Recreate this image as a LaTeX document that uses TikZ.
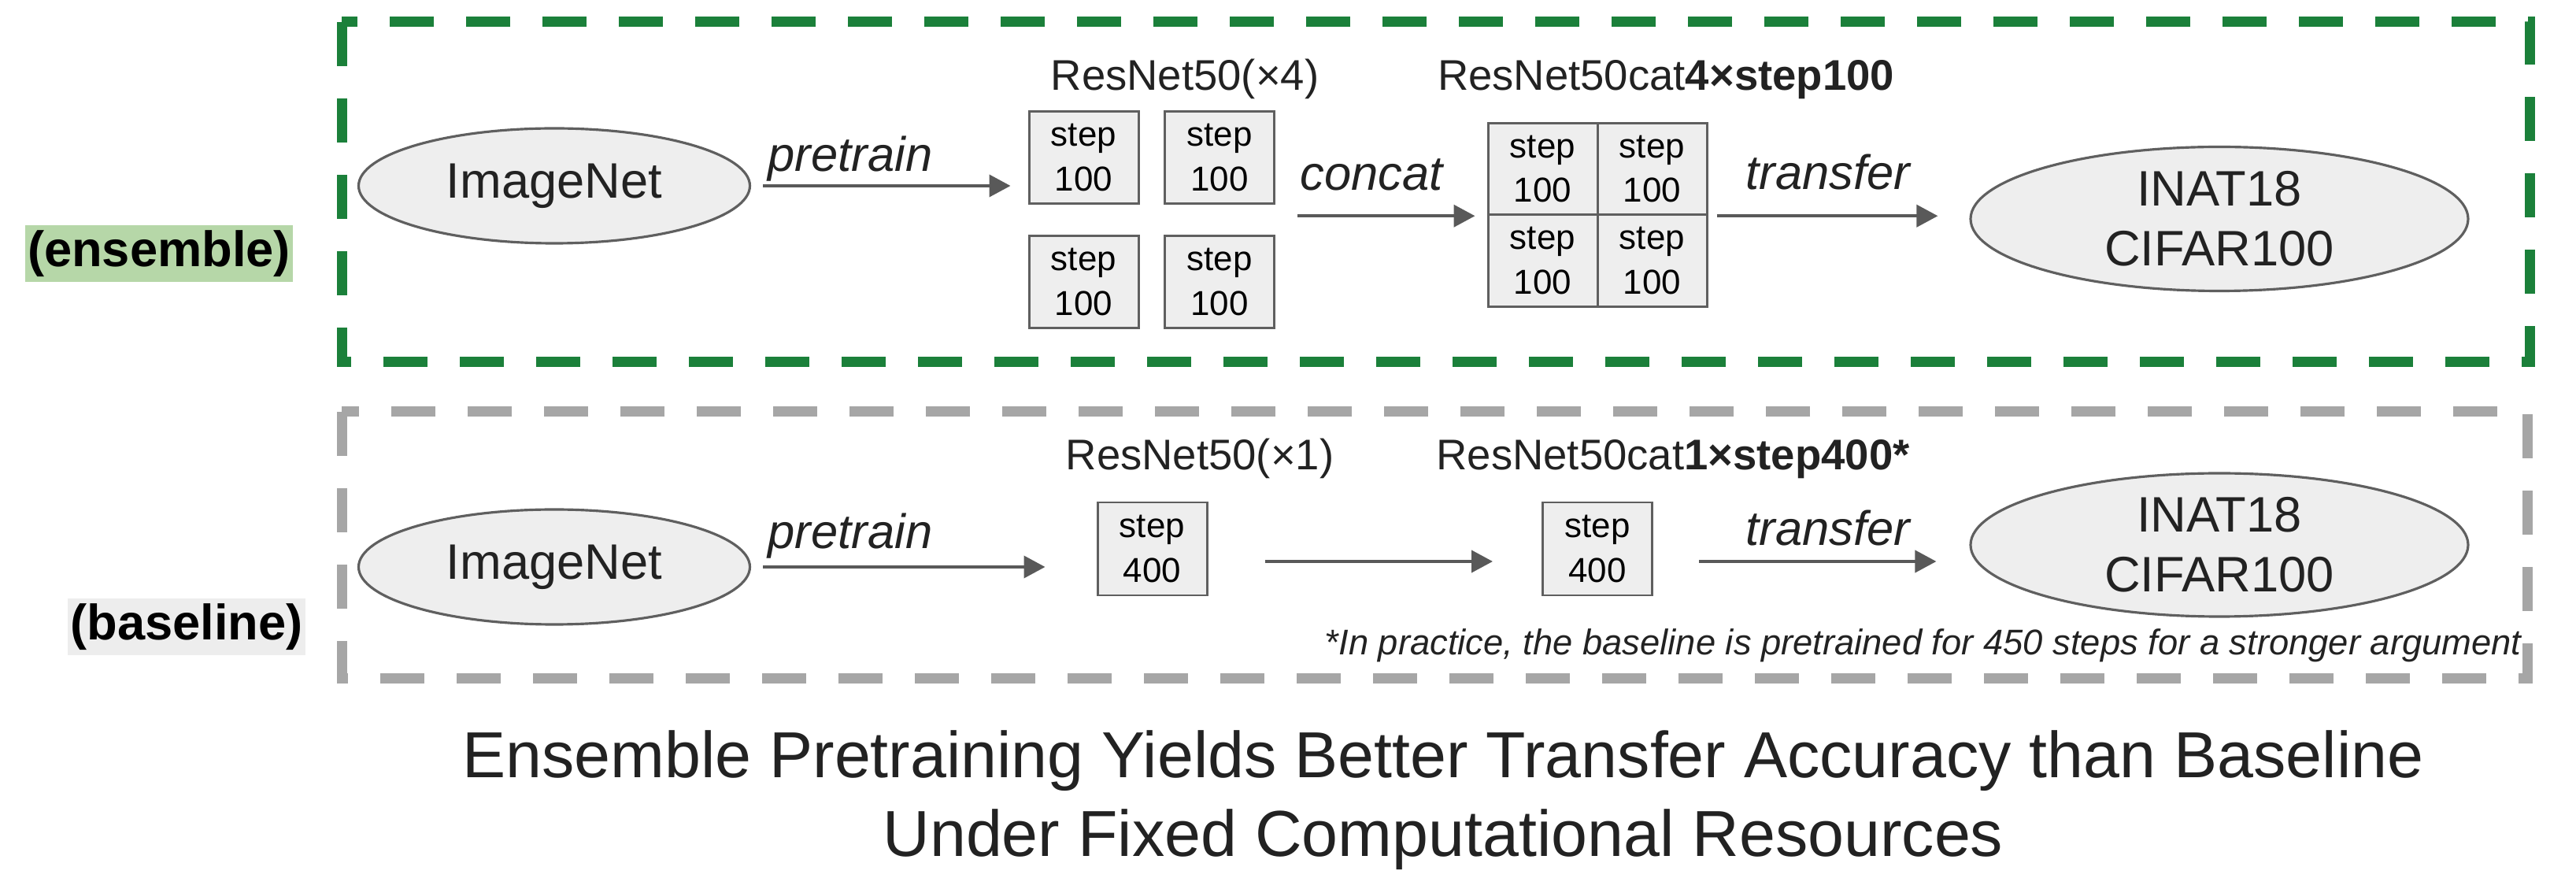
\documentclass[tikz,border=0pt]{standalone}
\usepackage{fontspec}
\setmainfont{Liberation Sans}
\usetikzlibrary{arrows.meta,shapes.geometric}
\definecolor{groupgreen}{HTML}{1B803A}
\definecolor{groupgray}{HTML}{A6A6A6}
\definecolor{tagbg}{HTML}{B6D7A8}
\definecolor{basebg}{HTML}{EDEDED}
\definecolor{nodefill}{HTML}{EEEEEE}
\definecolor{edgegray}{HTML}{5F5F5F}
\definecolor{arrowgray}{HTML}{595959}
\definecolor{txt}{HTML}{222222}
\begin{document}
\begin{tikzpicture}
[thick,%
  dataset/.style={ellipse,draw=edgegray,line width=0.9pt,fill=nodefill,inner sep=0pt,%
    align=center,text=txt,font=\fontsize{18}{21.6}\selectfont},%
  stepbox/.style={rectangle,draw=edgegray,line width=0.85pt,fill=nodefill,inner sep=0pt,%
    minimum width=1.39cm,minimum height=1.165cm,align=center,font=\fontsize{12.5}{16}\selectfont},%
  flow/.style={-{Triangle[length=0.27cm,width=0.28cm]},draw=arrowgray,line width=1.1pt},%
  actlabel/.style={anchor=base,inner sep=0pt,text=txt,font=\fontsize{17.5}{20}\selectfont\itshape},%
  netname/.style={anchor=base,inner sep=0pt,text=txt,font=\fontsize{15.5}{18}\selectfont},%
  rowtag/.style={inner xsep=0.03cm,inner ysep=0pt,minimum height=0.72cm,font=\fontsize{18}{21}\selectfont\bfseries},%
  groupframe/.style={line width=0.13cm,dash pattern=on 0.56cm off 0.41cm}]
\useasboundingbox (0,0) rectangle (32.72,-11.15);
\draw[groupframe,groupgreen] (4.34,-0.28) rectangle (32.13,-4.60);
\draw[groupframe,groupgray] (4.34,-5.23) rectangle (32.10,-8.62);
\node[rowtag,fill=tagbg] (enstag) at (2.02,-3.22) {(ensemble)};
\node[rowtag,fill=basebg] (basetag) at (2.37,-7.96) {(baseline)};

\node[dataset,minimum width=4.97cm,minimum height=1.46cm] (img1) at (7.04,-2.36) {ImageNet};
\node[stepbox] (s11) at (13.765,-2.00) {step\\100};
\node[stepbox] (s12) at (15.49,-2.00) {step\\100};
\node[stepbox] (s21) at (13.765,-3.58) {step\\100};
\node[stepbox] (s22) at (15.49,-3.58) {step\\100};
\node[stepbox] (c11) at (19.595,-2.145) {step\\100};
\node[stepbox] (c12) at (20.985,-2.145) {step\\100};
\node[stepbox] (c21) at (19.595,-3.31) {step\\100};
\node[stepbox] (c22) at (20.985,-3.31) {step\\100};
\node[dataset,minimum width=6.32cm,minimum height=1.83cm] (inat1) at (28.19,-2.78) {INAT18\\CIFAR100};
\node[netname] (net4) at (15.05,-1.15) {ResNet50(×4)};
\node[netname] (cat4) at (21.16,-1.15) {ResNet50cat\textbf{4×step100}};
\node[actlabel] (pre1) at (10.80,-2.18) {pretrain};
\node[actlabel] (concat) at (17.42,-2.42) {concat};
\node[actlabel] (tr1) at (23.22,-2.41) {transfer};
\draw[flow,shorten <=0.15cm,shorten >=0.22cm] (img1.east) -- (img1.east -| s11.west);
\draw[flow,shorten <=0.28cm,shorten >=0.15cm] (c11.south west -| s12.east) -- (c11.south west);
\draw[flow,shorten <=0.11cm,shorten >=0.40cm] (c12.south east) -- (c12.south east -| inat1.west);

\node[dataset,minimum width=4.97cm,minimum height=1.46cm] (img2) at (7.04,-7.20) {ImageNet};
\node[stepbox,minimum height=1.18cm] (b1) at (14.635,-6.97) {step\\400};
\node[stepbox,minimum height=1.18cm] (b2) at (20.29,-6.97) {step\\400};
\node[dataset,minimum width=6.32cm,minimum height=1.82cm] (inat2) at (28.19,-6.92) {INAT18\\CIFAR100};
\node[netname] (net1) at (15.24,-5.97) {ResNet50(×1)};
\node[netname] (cat1) at (21.25,-5.97) {ResNet50cat\textbf{1×step400*}};
\node[actlabel] (pre2) at (10.80,-6.97) {pretrain};
\node[actlabel] (tr2) at (23.22,-6.93) {transfer};
\draw[flow,shorten <=0.15cm,shorten >=0.65cm] (img2.east) -- (img2.east -| b1.west);
\draw[flow,shorten <=0.72cm,shorten >=0.62cm] ([yshift=-0.16cm]b1.east) -- ([yshift=-0.16cm]b2.west);
\draw[flow,shorten <=0.58cm,shorten >=0.42cm] ([yshift=-0.16cm]b2.east) -- ([yshift=-0.16cm]b2.east -| inat2.west);
\node[anchor=base east,inner sep=0pt,text=txt,font=\fontsize{12.9}{15}\selectfont\itshape] (note) at (32.04,-8.32)
  {*In practice, the baseline is pretrained for 450 steps for a stronger argument};

\node[anchor=base,inner sep=0pt,text=txt,font=\fontsize{23.5}{28}\selectfont] (title1) at (18.33,-9.88)
  {Ensemble Pretraining Yields Better Transfer Accuracy than Baseline};
\node[anchor=base,inner sep=0pt,text=txt,font=\fontsize{23.5}{28}\selectfont] (title2) at (18.33,-10.88)
  {Under Fixed Computational Resources};
\end{tikzpicture}
\end{document}
